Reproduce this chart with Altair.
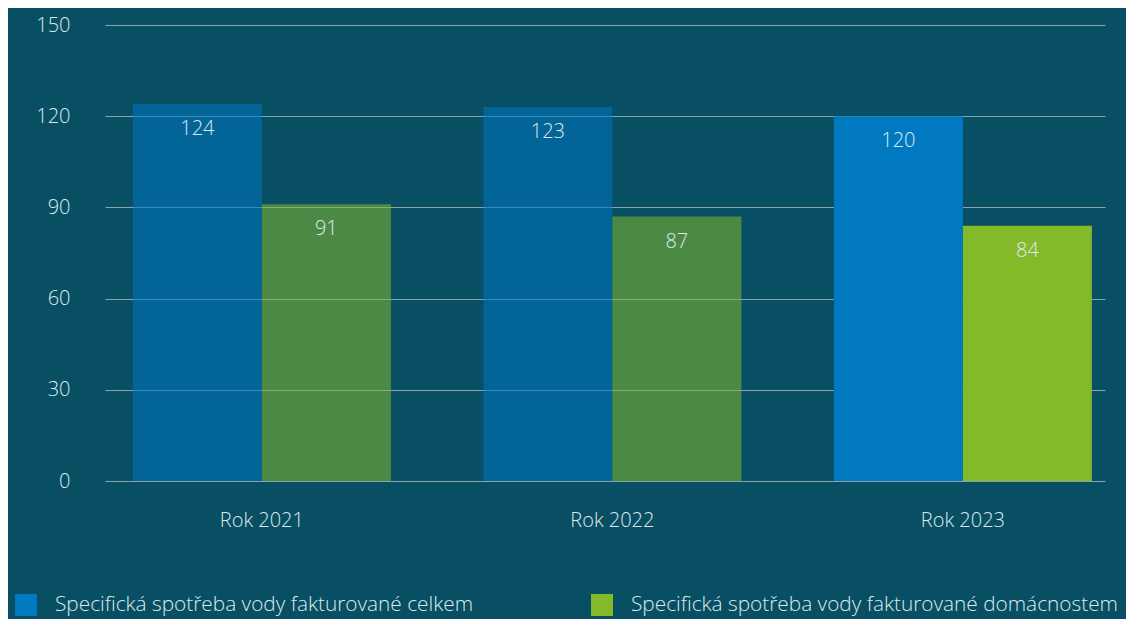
import altair as alt
import pandas as pd

years = ["Rok 2021", "Rok 2022", "Rok 2023"]
series = ["Specifická spotřeba vody fakturované celkem",
          "Specifická spotřeba vody fakturované domácnostem"]
total_values = [124, 123, 120]
household_values = [91, 87, 84]
y_ticks = [0, 30, 60, 90, 120, 150]

rows = []
for i, y in enumerate(years):
    rows.append({"year": y, "series": series[0], "value": total_values[i]})
    rows.append({"year": y, "series": series[1], "value": household_values[i]})
df = pd.DataFrame(rows)

BG = "#084f64"
TXT = "#dde9ee"
FONT = "Open Sans"

x_enc = alt.X("year:N", sort=years, title=None,
              scale=alt.Scale(paddingInner=0.264, paddingOuter=0.0585, align=0.68),
              axis=alt.Axis(labelAngle=0, ticks=False, domain=False, labelPadding=29,
                            labelFontSize=20, labelColor=TXT, labelFont=FONT,
                            labelFontWeight=300, grid=False))
y_enc = alt.Y("value:Q", title=None,
              scale=alt.Scale(domain=[0, 150], nice=False),
              axis=alt.Axis(values=y_ticks, ticks=False, domain=False, labelPadding=35,
                            labelFontSize=20, labelColor=TXT, labelFont=FONT,
                            labelFontWeight=300, gridColor="#8da2ab", gridWidth=1,
                            gridOpacity=1))

base = alt.Chart(df).encode(
    x=x_enc,
    xOffset=alt.XOffset("series:N", sort=series, scale=alt.Scale(paddingInner=0, paddingOuter=0)),
)

bars = base.mark_bar().encode(
    y=y_enc,
    color=alt.Color("series:N", sort=series,
                    scale=alt.Scale(domain=series, range=["#0079c1", "#84b92a"]),
                    legend=alt.Legend(title=None, orient="none", legendX=-90, legendY=569,
                                      direction="horizontal", columns=2,
                                      symbolType="square", symbolSize=484,
                                      symbolStrokeWidth=0, symbolOpacity=1,
                                      labelFontSize=20.8, labelColor=TXT, labelFont=FONT,
                                      labelFontWeight=300, labelOffset=18,
                                      labelLimit=600, columnPadding=117)),
    opacity=alt.condition(alt.datum.year == "Rok 2023", alt.value(1), alt.value(0.55)),
)

labels = base.mark_text(baseline="middle", dy=25, fontSize=20, color=TXT,
                        font=FONT, fontWeight=300).encode(
    y=alt.Y("value:Q"),
    text=alt.Text("value:Q"),
)

chart = alt.layer(bars, labels).properties(
    width=1000, height=456,
    background=BG,
    padding={"left": 97, "top": 17, "right": 21, "bottom": 140},
    autosize=alt.AutoSizeParams(type="none"),
).configure_view(stroke=None)

chart.save("out.html", embed_options={"renderer": "svg", "actions": False})
